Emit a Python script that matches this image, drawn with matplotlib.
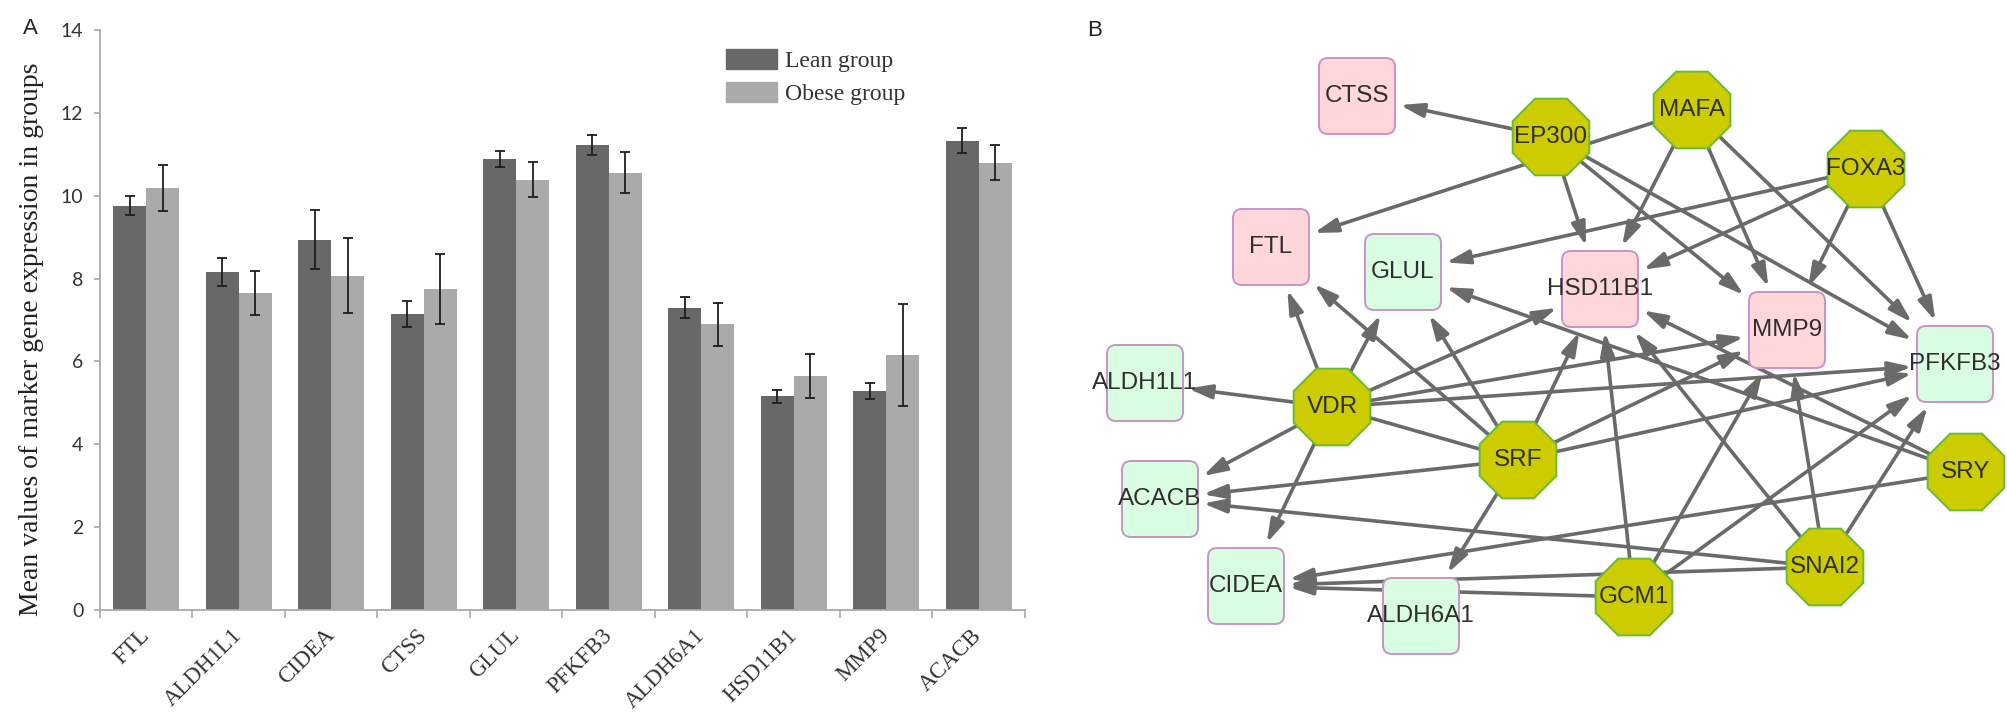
import numpy as np
import matplotlib
matplotlib.use("Agg")
import matplotlib.pyplot as plt
from matplotlib.patches import FancyBboxPatch, RegularPolygon, FancyArrowPatch, Patch

# ---- panel A data: mean expression of marker genes ----
genes = ["FTL", "ALDH1L1", "CIDEA", "CTSS", "GLUL", "PFKFB3", "ALDH6A1", "HSD11B1", "MMP9", "ACACB"]
lean_mean = [9.76, 8.16, 8.94, 7.15, 10.88, 11.23, 7.30, 5.16, 5.28, 11.33]
lean_err = [0.23, 0.33, 0.72, 0.32, 0.19, 0.24, 0.26, 0.16, 0.19, 0.30]
obese_mean = [10.19, 7.65, 8.07, 7.75, 10.39, 10.56, 6.90, 5.64, 6.16, 10.80]
obese_err = [0.55, 0.54, 0.90, 0.85, 0.42, 0.50, 0.52, 0.53, 1.23, 0.42]

# ---- panel B data: TF / target network (layout in pixels) ----
up_genes = ["CTSS", "FTL", "HSD11B1", "MMP9"]
down_genes = ["GLUL", "ALDH1L1", "ACACB", "CIDEA", "ALDH6A1", "PFKFB3"]
tf_genes = ["EP300", "MAFA", "FOXA3", "VDR", "SRF", "SRY", "SNAI2", "GCM1"]
node_pos = {
    "CTSS": (1357, 96), "FTL": (1271, 247), "HSD11B1": (1600, 289), "MMP9": (1787, 330),
    "GLUL": (1403, 272), "ALDH1L1": (1145, 383), "ACACB": (1160, 499), "CIDEA": (1246, 586),
    "ALDH6A1": (1421, 616), "PFKFB3": (1955, 364),
    "EP300": (1551, 137), "MAFA": (1692, 110), "FOXA3": (1866, 169), "VDR": (1332, 407),
    "SRF": (1518, 460), "SRY": (1966, 472), "SNAI2": (1825, 567), "GCM1": (1634, 597),
}
edges = [
    ("EP300", "CTSS"), ("EP300", "HSD11B1"), ("EP300", "MMP9"), ("EP300", "PFKFB3"),
    ("MAFA", "FTL"), ("MAFA", "HSD11B1"), ("MAFA", "MMP9"), ("MAFA", "PFKFB3"),
    ("FOXA3", "GLUL"), ("FOXA3", "HSD11B1"), ("FOXA3", "MMP9"), ("FOXA3", "PFKFB3"),
    ("VDR", "FTL"), ("VDR", "GLUL"), ("VDR", "ALDH1L1"), ("VDR", "ACACB"), ("VDR", "CIDEA"),
    ("VDR", "HSD11B1"), ("VDR", "MMP9"), ("VDR", "PFKFB3"),
    ("SRF", "FTL"), ("SRF", "GLUL"), ("SRF", "HSD11B1"), ("SRF", "MMP9"), ("SRF", "PFKFB3"),
    ("SRF", "ACACB"), ("SRF", "ALDH6A1"),
    ("SRY", "GLUL"), ("SRY", "HSD11B1"), ("SRY", "CIDEA"),
    ("SNAI2", "ACACB"), ("SNAI2", "CIDEA"), ("SNAI2", "HSD11B1"), ("SNAI2", "MMP9"), ("SNAI2", "PFKFB3"),
    ("GCM1", "CIDEA"), ("GCM1", "HSD11B1"), ("GCM1", "MMP9"), ("GCM1", "PFKFB3"),
]
plain_links = [("VDR", "SRF")]

W, H = 2008, 725
SERIF = "Liberation Serif"
SANS = "Liberation Sans"

fig = plt.figure(figsize=(W / 100, H / 100), dpi=100)

# ================= panel A =================
ax = fig.add_axes([100 / W, 115 / H, 925 / W, 580 / H])
x = np.arange(len(genes))
bw = 0.356
ax.bar(x - bw / 2, lean_mean, bw, color="#686868", zorder=2)
ax.bar(x + bw / 2, obese_mean, bw, color="#aaaaaa", zorder=2)
err_kw = dict(fmt="none", ecolor="#1e1e1e", elinewidth=1.3, capsize=3.5, capthick=1.3, zorder=3)
ax.errorbar(x - bw / 2, lean_mean, yerr=lean_err, **err_kw)
ax.errorbar(x + bw / 2, obese_mean, yerr=obese_err, **err_kw)

ax.set_xlim(-0.5, len(genes) - 0.5)
ax.set_ylim(0, 14)
ax.set_yticks(range(0, 15, 2))
ax.set_yticklabels([str(v) for v in range(0, 15, 2)], fontfamily="Lato", fontsize=14, color="#333333")
ax.set_xticks(x)
ax.set_xticklabels(genes, rotation=45, ha="right", va="center", rotation_mode="anchor",
                   fontfamily=SERIF, fontsize=16.5, color="#333333")
ax.set_xticks(np.arange(-0.5, len(genes), 1), minor=True)
ax.tick_params(axis="x", which="major", length=0, pad=16)
ax.tick_params(axis="x", which="minor", length=6, width=1.2, color="#aaaaaa", direction="out")
ax.tick_params(axis="y", length=4, width=1.2, color="#aaaaaa", pad=8)
for side in ["top", "right"]:
    ax.spines[side].set_visible(False)
for side in ["left", "bottom"]:
    ax.spines[side].set_color("#aaaaaa")
    ax.spines[side].set_linewidth(1.3)

fig.text(32 / W, 1 - 339 / H, "Mean values of marker gene expression in groups", rotation=90,
         ha="center", va="center", fontfamily=SERIF, fontsize=20, color="#222222")

handles = [Patch(color="#686868", label="Lean group"), Patch(color="#aaaaaa", label="Obese group")]
fig.legend(handles=handles, loc="upper left", bbox_to_anchor=(726 / W, 1 - 49 / H), frameon=False,
           prop={"family": SERIF, "size": 17}, handlelength=2.15, handleheight=0.93,
           handletextpad=0.35, labelspacing=0.42, borderpad=0, borderaxespad=0, labelcolor="#333333")

fig.text(30 / W, 1 - 28 / H, "A", fontfamily=SANS, fontsize=16, ha="center", va="center", color="#222222")
fig.text(1095 / W, 1 - 30 / H, "B", fontfamily=SANS, fontsize=16, ha="center", va="center", color="#222222")

# ================= panel B =================
x0 = 1060
net = fig.add_axes([x0 / W, 0, (W - x0) / W, 1])
net.set_xlim(x0, W)
net.set_ylim(H, 0)
net.axis("off")

half = 38
gap = 5
edge_color = "#6a6a6a"


def box_entry(src, dst, h):
    """Point where the line src->dst enters a square of half size h around dst."""
    dx, dy = dst[0] - src[0], dst[1] - src[1]
    t = 1 - h / max(abs(dx), abs(dy))
    return src[0] + dx * t, src[1] + dy * t


for a, b in plain_links:
    net.plot([node_pos[a][0], node_pos[b][0]], [node_pos[a][1], node_pos[b][1]],
             color=edge_color, lw=2.6, zorder=1, solid_capstyle="butt")

for a, b in edges:
    src = node_pos[a]
    tip = box_entry(src, node_pos[b], half + gap)
    arrow = FancyArrowPatch(posA=src, posB=tip, arrowstyle="-|>,head_length=1.4,head_width=0.42",
                            mutation_scale=10, lw=2.6, color=edge_color, shrinkA=0, shrinkB=0,
                            zorder=1)
    net.add_patch(arrow)

for name in up_genes + down_genes:
    cx, cy = node_pos[name]
    fill = "#ffd7da" if name in up_genes else "#d9fde1"
    box = FancyBboxPatch((cx - half, cy - half), 2 * half, 2 * half,
                         boxstyle="round,pad=0,rounding_size=9", facecolor=fill,
                         edgecolor="#c993c9", lw=1.4, zorder=3)
    net.add_patch(box)
    net.text(cx, cy, name, ha="center", va="center", fontfamily=SANS, fontsize=17.5,
             color="#2e2e2e", zorder=4)

for name in tf_genes:
    cx, cy = node_pos[name]
    octagon = RegularPolygon((cx, cy), numVertices=8, radius=41.5, orientation=np.pi / 8,
                             facecolor="#cccc00", edgecolor="#66bb33", lw=1.4, zorder=3)
    net.add_patch(octagon)
    net.text(cx, cy, name, ha="center", va="center", fontfamily=SANS, fontsize=17.5,
             color="#2e2e2e", zorder=4)

fig.savefig("out.png", dpi=100)
